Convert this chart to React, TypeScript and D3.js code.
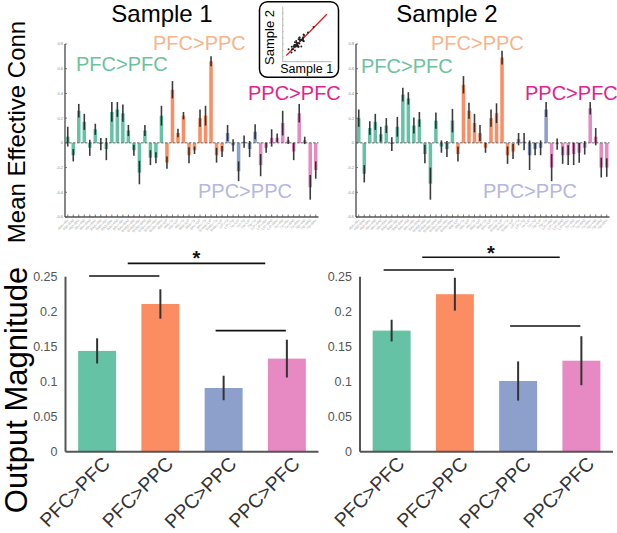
import React from 'react';
import * as d3 from 'd3';

const FONT = '"Liberation Sans", Arial, Helvetica, sans-serif';

// ---- categories ----
const groups = ['PFC>PFC', 'PFC>PPC', 'PPC>PPC', 'PPC>PFC'];
const groupColors = ['#66c2a5', '#fc8d62', '#8da0cb', '#e78ac3'];
const groupTextColors = ['#6cc39b', '#f8b48a', '#b4b6e4', '#e2238d'];

const connPFCPFC = ['46d>46v', '46d>8Ad', '46d>8Av', '46v>46d', '46v>8Ad', '46v>8Av', '8Ad>46d', '8Ad>46v', '8Ad>8Av', '8Av>46d', '8Av>46v', '8Av>8Ad', '9/46d>46d', '9/46d>46v', '9/46d>8Ad', '9/46v>46d', '9/46v>46v', '9/46v>8Av'];
const connPFCPPC = ['46d>LIP', '46d>7a', '46v>LIP', '46v>7a', '8Ad>LIP', '8Ad>7a', '8Av>LIP', '8Av>7a', '9/46d>LIP', '9/46v>7a', '9/46v>LIP'];
const connPPCPPC = ['LIP>7a', 'LIP>7ip', '7a>LIP', '7a>7ip', '7ip>LIP', '7ip>7a'];
const connPPCPFC = ['LIP>46d', 'LIP>46v', 'LIP>8Ad', 'LIP>8Av', '7a>46d', '7a>46v', '7a>8Ad', '7a>8Av', '7ip>46d', '7ip>8Ad', '7ip>8Av'];

// ---- Sample 1 effective connectivity ----
const s1PFCPFC = [0.05, -0.10, 0.26, 0.17, -0.04, 0.11, -0.01, -0.05, 0.25, 0.27, 0.24, 0.10, -0.06, -0.24, 0.10, -0.12, -0.12, 0.22];
const s1PFCPPC = [-0.16, 0.43, 0.08, 0.22, -0.10, -0.06, 0.20, 0.22, 0.66, -0.10, -0.07];
const s1PPCPPC = [0.08, -0.02, -0.23, 0.01, -0.05, 0.09];
const s1PPCPFC = [-0.18, -0.04, 0.04, 0.04, 0.16, 0.02, -0.07, 0.24, 0.02, -0.36, -0.22];
const s1ErrPFCPFC = [0.08, 0.05, 0.055, 0.065, 0.065, 0.045, 0.05, 0.09, 0.08, 0.06, 0.07, 0.045, 0.045, 0.095, 0.045, 0.06, 0.045, 0.08];
const s1ErrPFCPPC = [0.05, 0.07, 0.035, 0.03, 0.065, 0.03, 0.07, 0.08, 0.04, 0.06, 0.045];
const s1ErrPPCPPC = [0.065, 0.05, 0.08, 0.05, 0.065, 0.06];
const s1ErrPPCPFC = [0.09, 0.04, 0.07, 0.035, 0.1, 0.03, 0.07, 0.075, 0.03, 0.1, 0.07];

// ---- Sample 2 effective connectivity ----
const s2PFCPFC = [0.20, -0.25, 0.12, 0.17, 0.07, 0.14, -0.01, 0.13, 0.39, 0.36, 0.14, 0.19, -0.09, -0.33, 0.18, -0.03, -0.05, 0.18];
const s2PFCPPC = [-0.09, 0.47, 0.26, 0.16, 0.08, -0.04, 0.20, 0.24, 0.69, -0.10, -0.07];
const s2PPCPPC = [0.03, 0.01, -0.10, -0.05, -0.04, 0.27];
const s2PPCPFC = [-0.20, -0.01, -0.10, -0.10, -0.09, -0.08, -0.04, 0.28, 0.05, -0.20, -0.20];
const s2ErrPFCPFC = [0.07, 0.07, 0.055, 0.065, 0.06, 0.06, 0.055, 0.08, 0.055, 0.05, 0.065, 0.06, 0.075, 0.13, 0.065, 0.05, 0.065, 0.095];
const s2ErrPFCPPC = [0.06, 0.07, 0.065, 0.075, 0.065, 0.04, 0.07, 0.08, 0.055, 0.07, 0.06];
const s2ErrPPCPPC = [0.05, 0.07, 0.12, 0.05, 0.06, 0.06];
const s2ErrPPCPFC = [0.11, 0.045, 0.07, 0.08, 0.09, 0.08, 0.055, 0.05, 0.07, 0.08, 0.075];

// ---- Output magnitude ----
const s1Mag = [0.144, 0.211, 0.091, 0.133];
const s1MagErr = [0.018, 0.021, 0.0175, 0.027];
const s2Mag = [0.173, 0.225, 0.101, 0.130];
const s2MagErr = [0.0155, 0.0235, 0.028, 0.035];
// significance bracket heights [pair(0,1), wide, pair(2,3)]
const s1Sig = [0.251, 0.269, 0.173];
const s2Sig = [0.2596, 0.2777, 0.1796];

const topTicks = [-0.6, -0.4, -0.2, 0, 0.2, 0.4, 0.6, 0.8];
const magTicks = [0, 0.05, 0.1, 0.15, 0.2, 0.25];

type Item = { label: string; g: number; v: number; e: number };
function build(vals: number[][], errs: number[][]): Item[] {
  const conns = [connPFCPFC, connPFCPPC, connPPCPPC, connPPCPFC];
  const out: Item[] = [];
  conns.forEach((c, g) => c.forEach((label, i) => out.push({ label, g, v: vals[g][i], e: errs[g][i] })));
  return out;
}
const sample1 = build([s1PFCPFC, s1PFCPPC, s1PPCPPC, s1PPCPFC], [s1ErrPFCPFC, s1ErrPFCPPC, s1ErrPPCPPC, s1ErrPPCPFC]);
const sample2 = build([s2PFCPFC, s2PFCPPC, s2PPCPPC, s2PPCPFC], [s2ErrPFCPFC, s2ErrPFCPPC, s2ErrPPCPPC, s2ErrPPCPFC]);

type LabelPos = { g: number; x: number; y: number }[];

function TopPanel({ left, data, labels }: { left: number; data: Item[]; labels: LabelPos }) {
  const right = left + 253.5;
  const x = d3.scaleBand<number>().domain(d3.range(data.length)).range([left, right]).padding(0);
  const y = d3.scaleLinear().domain([-0.6, 0.8]).range([217, 44]);
  const bw = x.bandwidth() * 0.64;
  const cx = (i: number) => (x(i) as number) + x.bandwidth() / 2;
  return (
    <g>
      {data.map((d, i) => (
        <rect key={'b' + i} x={cx(i) - bw / 2} y={Math.min(y(d.v), y(0))} width={bw}
          height={Math.abs(y(d.v) - y(0))} fill={groupColors[d.g]} />
      ))}
      <line x1={left} x2={right} y1={y(0)} y2={y(0)} stroke="#666" strokeWidth={1} strokeDasharray="2.5,1.5" />
      {data.map((d, i) => (
        <line key={'e' + i} x1={cx(i)} x2={cx(i)} y1={y(d.v - d.e)} y2={y(d.v + d.e)}
          stroke="#1a1a1a" strokeOpacity={0.85} strokeWidth={1.6} />
      ))}
      <line x1={left} x2={left} y1={44} y2={217} stroke="#555" strokeWidth={1.4} />
      <line x1={left} x2={right} y1={217} y2={217} stroke="#555" strokeWidth={1.4} />
      {topTicks.map((t) => (
        <g key={'yt' + t}>
          <line x1={left} x2={left + 2} y1={y(t)} y2={y(t)} stroke="#555" strokeWidth={0.8} />
          <text x={left - 2} y={y(t)} dy="0.35em" fontSize={4} fill="#888" textAnchor="end" fontFamily={FONT}>
            {String(t)}
          </text>
        </g>
      ))}
      {data.map((d, i) => (
        <g key={'xt' + i}>
          <line x1={cx(i)} x2={cx(i)} y1={217} y2={214.5} stroke="#555" strokeWidth={0.8} />
          <text transform={`translate(${cx(i) + 1},${220.5}) rotate(-45)`} fontSize={3.6} fill="#a8a8a8"
            textAnchor="end" fontFamily={FONT}>{d.label}</text>
        </g>
      ))}
      {labels.map((l) => (
        <text key={'gl' + l.g} x={l.x} y={l.y} fontSize={20} fill={groupTextColors[l.g]} fontFamily={FONT}>
          {groups[l.g]}
        </text>
      ))}
    </g>
  );
}

function BottomPanel({ left, mag, err, sig, starDy }: { left: number; mag: number[]; err: number[]; sig: number[]; starDy: number }) {
  const right = left + 253;
  const x = d3.scaleBand<string>().domain(groups).range([left, right]).paddingInner(0.4).paddingOuter(0.2);
  const y = d3.scaleLinear().domain([0, 0.25]).range([451.7, 276.7]);
  const c = (i: number) => (x(groups[i]) as number) + x.bandwidth() / 2;
  const wide0 = (c(0) + c(1)) / 2 - 1;
  const wide1 = (c(2) + c(3)) / 2 + 10;
  return (
    <g>
      {groups.map((g, i) => (
        <rect key={g} x={x(g)} y={y(mag[i])} width={x.bandwidth()} height={y(0) - y(mag[i])} fill={groupColors[i]} />
      ))}
      {groups.map((g, i) => (
        <line key={'e' + g} x1={c(i)} x2={c(i)} y1={y(mag[i] - err[i])} y2={y(mag[i] + err[i])} stroke="#333" strokeWidth={2} />
      ))}
      <line x1={left} x2={left} y1={y(0.25)} y2={y(0)} stroke="#555" strokeWidth={2} />
      <line x1={left} x2={right} y1={y(0)} y2={y(0)} stroke="#555" strokeWidth={2} />
      {magTicks.map((t) => (
        <text key={t} x={left - 8} y={y(t)} dy="0.35em" fontSize={12.5} fill="#555" textAnchor="end" fontFamily={FONT}>
          {String(t)}
        </text>
      ))}
      {groups.map((g, i) => (
        <text key={'l' + g} transform={`translate(${c(i) + 14},465) rotate(-45)`} fontSize={19.5} fill="#333"
          textAnchor="end" fontFamily={FONT}>{g}</text>
      ))}
      <line x1={c(0) - 8} x2={c(1) - 1} y1={y(sig[0])} y2={y(sig[0])} stroke="#111" strokeWidth={1.6} />
      <line x1={wide0} x2={wide1} y1={y(sig[1])} y2={y(sig[1])} stroke="#111" strokeWidth={1.6} />
      <line x1={c(2) - 8} x2={c(3) - 1} y1={y(sig[2])} y2={y(sig[2])} stroke="#111" strokeWidth={1.6} />
      <text x={(wide0 + wide1) / 2} y={y(sig[1]) + starDy} fontSize={20} fontWeight="bold" textAnchor="middle" fill="#111" fontFamily={FONT}>*</text>
    </g>
  );
}

function Inset() {
  const x = d3.scaleLinear().domain([-0.6, 1.4]).range([282.7, 331.7]);
  const y = d3.scaleLinear().domain([-0.7, 1.5]).range([61.7, 6.7]);
  const xt = [-0.5, 0, 0.5, 1];
  const yt = [-0.5, -0.25, 0, 0.25, 0.5, 0.75, 1, 1.25];
  return (
    <g>
      <rect x={259.5} y={1.7} width={79} height={75.6} rx={8} fill="#fff" stroke="#000" strokeWidth={1.5} />
      <line x1={x(-0.6)} x2={x(-0.6)} y1={y(1.5)} y2={y(-0.7)} stroke="#999" strokeWidth={0.7} />
      <line x1={x(-0.6)} x2={x(1.4)} y1={y(-0.7)} y2={y(-0.7)} stroke="#999" strokeWidth={0.7} />
      {xt.map((t) => <line key={'x' + t} x1={x(t)} x2={x(t)} y1={y(-0.7)} y2={y(-0.7) - 1.2} stroke="#999" strokeWidth={0.5} />)}
      {yt.map((t) => <line key={'y' + t} x1={x(-0.6)} x2={x(-0.6) + 1.2} y1={y(t)} y2={y(t)} stroke="#999" strokeWidth={0.5} />)}
      <line x1={x(-0.45)} y1={y(-0.45)} x2={x(1.2)} y2={y(1.2)} stroke="#e41a1c" strokeWidth={1.3} />
      {sample1.map((d, i) => (
        <circle key={i} cx={x(d.v)} cy={y(sample2[i].v)} r={1} fill="#222" />
      ))}
      <text transform="translate(273.5,37.5) rotate(-90)" fontSize={13} textAnchor="middle" fill="#000" fontFamily={FONT}>Sample 2</text>
      <text x={306.7} y={72.5} fontSize={12.5} textAnchor="middle" fill="#000" fontFamily={FONT}>Sample 1</text>
    </g>
  );
}

export default function App() {
  return (
    <svg width={617} height={533} style={{ position: 'absolute', left: 0, top: 0, background: '#fff' }}>
      <rect width={617} height={533} fill="#fff" />
      <text x={162} y={22} fontSize={24} textAnchor="middle" fill="#000" fontFamily={FONT}>Sample 1</text>
      <text x={447} y={22} fontSize={24} textAnchor="middle" fill="#000" fontFamily={FONT}>Sample 2</text>
      <text transform="translate(25,132) rotate(-90)" fontSize={24} textAnchor="middle" fill="#000" fontFamily={FONT}>Mean Effective Conn</text>
      <text transform="translate(27,390) rotate(-90)" fontSize={31} textAnchor="middle" fill="#000" fontFamily={FONT}>Output Magnitude</text>
      <TopPanel left={65} data={sample1} labels={[
        { g: 0, x: 76, y: 71 }, { g: 1, x: 153, y: 50 }, { g: 3, x: 248, y: 100 }, { g: 2, x: 198, y: 198 },
      ]} />
      <TopPanel left={356} data={sample2} labels={[
        { g: 0, x: 361, y: 72.5 }, { g: 1, x: 431, y: 50 }, { g: 3, x: 525, y: 100 }, { g: 2, x: 483, y: 198 },
      ]} />
      <Inset />
      <BottomPanel left={65.5} mag={s1Mag} err={s1MagErr} sig={s1Sig} starDy={2} />
      <BottomPanel left={360} mag={s2Mag} err={s2MagErr} sig={s2Sig} starDy={3} />
    </svg>
  );
}
